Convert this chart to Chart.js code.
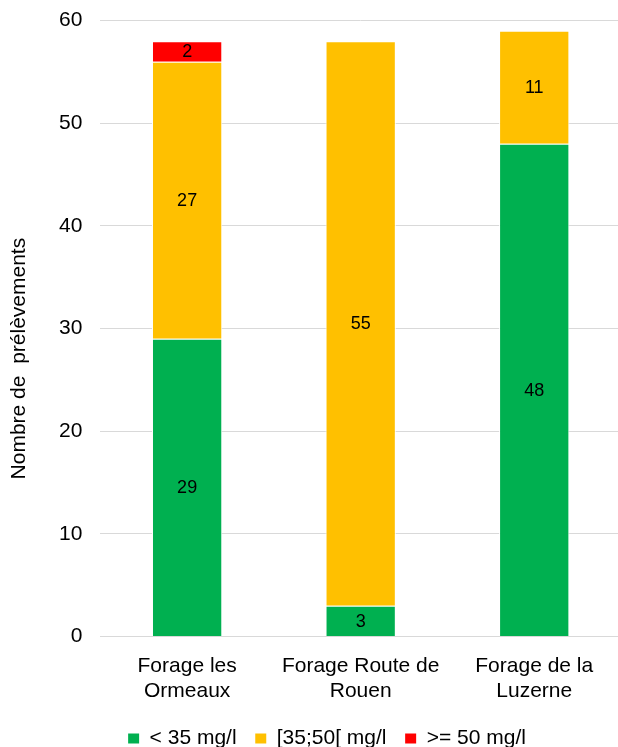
<!DOCTYPE html>
<html><head><meta charset="utf-8">
<script src="https://cdn.jsdelivr.net/npm/chart.js@4.4.1/dist/chart.umd.min.js"></script>
<style>html,body{margin:0;padding:0;background:#fff;overflow:hidden}#wrap{width:621px;height:769px;position:absolute;left:0;top:-10px}</style>
</head><body><div id="wrap"><canvas id="c"></canvas></div>
<script>
const categories = [["Forage les","Ormeaux"],["Forage Route de","Rouen"],["Forage de la","Luzerne"]];
const seriesNames = ["< 35 mg/l","[35;50[ mg/l",">= 50 mg/l"];
const below35 = [29, 3, 48];
const between35_50 = [27, 55, 11];
const above50 = [2, 0, 0];
const yTicks = [0,10,20,30,40,50,60];
const yTitle = 'Nombre de  prélèvements';

const FONT = '"Liberation Sans", Arial, sans-serif';
const labelPlugin = {
  id:'segLabels',
  afterLayout(chart){
    chart.legend.left -= 4; chart.legend.right -= 4;
  },
  afterDatasetsDraw(chart){
    const ctx = chart.ctx;
    ctx.save();
    ctx.font = '18px ' + FONT;
    ctx.fillStyle = '#000';
    ctx.textAlign = 'center';
    ctx.textBaseline = 'middle';
    chart.data.datasets.forEach((ds,i)=>{
      const meta = chart.getDatasetMeta(i);
      meta.data.forEach((bar,j)=>{
        const v = ds.data[j];
        if(!v) return;
        const y = (bar.y + bar.base)/2;
        ctx.fillText(String(v), bar.x, y+1);
      });
    });
    ctx.restore();
  },
  afterDraw(chart){
    const ctx = chart.ctx;
    const a = chart.chartArea;
    ctx.save();
    ctx.font = '21px ' + FONT;
    ctx.fillStyle = '#000';
    ctx.textAlign = 'center';
    ctx.textBaseline = 'middle';
    ctx.translate(19, (a.top + a.bottom)/2 + 30);
    ctx.rotate(-Math.PI/2);
    ctx.fillText(yTitle, 0, 0);
    ctx.restore();
  }
};

new Chart(document.getElementById('c'),{
  type:'bar',
  data:{
    labels:categories,
    datasets:[
      {label:seriesNames[0],data:below35,backgroundColor:'#00b050',borderColor:'#ffffff',borderWidth:{left:1,right:1,top:1,bottom:0}},
      {label:seriesNames[1],data:between35_50,backgroundColor:'#ffc000',borderColor:'#ffffff',borderWidth:{left:1,right:1,top:1,bottom:0}},
      {label:seriesNames[2],data:above50,backgroundColor:'#ff0000',borderColor:'#ffffff',borderWidth:{left:1,right:1,top:1,bottom:0}}
    ]
  },
  options:{
    responsive:true,maintainAspectRatio:false,animation:false,
    layout:{padding:{left:41,right:0,top:0,bottom:0}},
    datasets:{bar:{categoryPercentage:1,barPercentage:0.405}},
    plugins:{
      legend:{position:'bottom',labels:{boxWidth:11,boxHeight:10,color:'#000',font:{family:FONT,size:21},padding:7,
        generateLabels(chart){
          const items = Chart.defaults.plugins.legend.labels.generateLabels(chart);
          items.forEach((it,i)=>{ if(i<items.length-1) it.text = it.text + '  '; it.lineWidth = 0; });
          return items;
        }}},
      tooltip:{enabled:false}
    },
    scales:{
      x:{stacked:true,grid:{display:false,drawTicks:false},border:{color:'#d9d9d9',width:1},
         ticks:{color:'#000',font:{family:FONT,size:21},padding:17,maxRotation:0}},
      y:{stacked:true,min:0,max:60,
         afterBuildTicks(ax){ax.ticks=yTicks.map(v=>({value:v}));},
         grid:{color:'#d9d9d9',drawTicks:false},border:{display:false},
         ticks:{color:'#000',font:{family:FONT,size:21},padding:18},
         title:{display:false}}
    }
  },
  plugins:[labelPlugin]
});
</script></body></html>
